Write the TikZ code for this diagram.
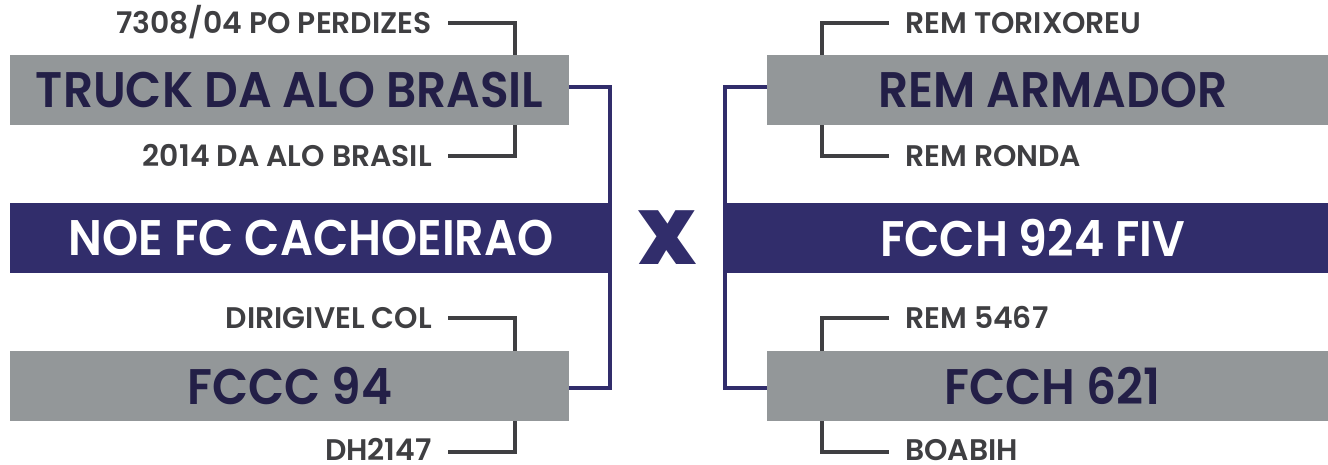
\documentclass[tikz,border=0pt]{standalone}
\usepackage{fontspec}
\setmainfont{Poppins}
\newfontfamily\fsemi{Poppins}[UprightFont=* SemiBold, FakeStretch=0.94]
\newfontfamily\fwhite{Poppins}[UprightFont=* SemiBold, FakeStretch=0.92]
\newfontfamily\flab{Poppins}[UprightFont=* SemiBold]
\newfontfamily\fblack{Poppins}[UprightFont=* Black]
\definecolor{boxgray}{HTML}{939799}
\definecolor{deep}{HTML}{312D6B}
\definecolor{navy}{HTML}{231F47}
\definecolor{labelgray}{HTML}{3F3F42}
\tikzset{
  graybox/.style={fill=boxgray, inner sep=0, minimum height=70pt, anchor=north west,
    font=\fsemi\fontsize{50}{50}\selectfont, text=navy},
  purplebox/.style={fill=deep, inner sep=0, minimum height=70pt, anchor=north west,
    font=\fwhite\fontsize{50}{50}\selectfont, text=white},
  lab/.style={inner sep=0, text height=20.5pt, text depth=0pt,
    font=\flab\fontsize{29.8}{29.8}\selectfont, text=labelgray},
  labl/.style={lab, anchor=east},
  labr/.style={lab, anchor=west},
  tick/.style={draw=labelgray, line width=4.5pt},
  link/.style={draw=deep, line width=3.5pt},
}
\begin{document}
\begin{tikzpicture}[x=1pt,y=-1pt]
\useasboundingbox (0,0) rectangle (1328,464);
% boxes
\node[graybox, minimum width=559pt] (tl) at (10,55) {TRUCK DA ALO BRASIL};
\node[graybox, minimum width=559pt] (bl) at (10,351) {FCCC 94};
\node[purplebox, minimum width=602pt] (ml) at (10,203) {NOE FC CACHOEIRAO};
\node[graybox, minimum width=571pt] (tr) at (767,55) {REM ARMADOR};
\node[graybox, minimum width=571pt] (br) at (767,351) {FCCH 621};
\node[purplebox, minimum width=615pt] (mr) at (725,203) {FCCH 924 FIV};
\node[inner sep=0, text=deep, font=\fblack\fontsize{76}{76}\selectfont] (vs) at (667.5,237.5) {X};
% labels
\node[labl] (l1) at (432,23) {7308/04 PO PERDIZES};
\node[labl] (l2) at (432,156) {2014 DA ALO BRASIL};
\node[labl] (l3) at (432,318) {DIRIGIVEL COL};
\node[labl] (l4) at (432,450) {DH2147};
\node[labr] (r1) at (905,23) {REM TORIXOREU};
\node[labr] (r2) at (905,156) {REM RONDA};
\node[labr] (r3) at (905,318) {REM 5467};
\node[labr] (r4) at (905,450) {BOABIH};
% bracket connectors
\draw[tick] (448,23) -- (515,23) -- (tl.north -| 515,0);
\draw[tick] (tl.south -| 515,0) -- (515,156) -- (448,156);
\draw[tick] (448,318) -- (515,318) -- (bl.north -| 515,0);
\draw[tick] (bl.south -| 515,0) -- (515,452) -- (448,452);
\draw[tick] (889,23) -- (822,23) -- (tr.north -| 822,0);
\draw[tick] (tr.south -| 822,0) -- (822,156) -- (889,156);
\draw[tick] (889,318) -- (822,318) -- (br.north -| 822,0);
\draw[tick] (br.south -| 822,0) -- (822,452) -- (889,452);
% purple connectors
\draw[link] (tl.east |- 0,87) -- (610,87) -- (610,388) -- (bl.east |- 0,388);
\draw[link] (tr.west |- 0,87) -- (725,87) -- (725,388) -- (br.west |- 0,388);
\end{tikzpicture}
\end{document}
